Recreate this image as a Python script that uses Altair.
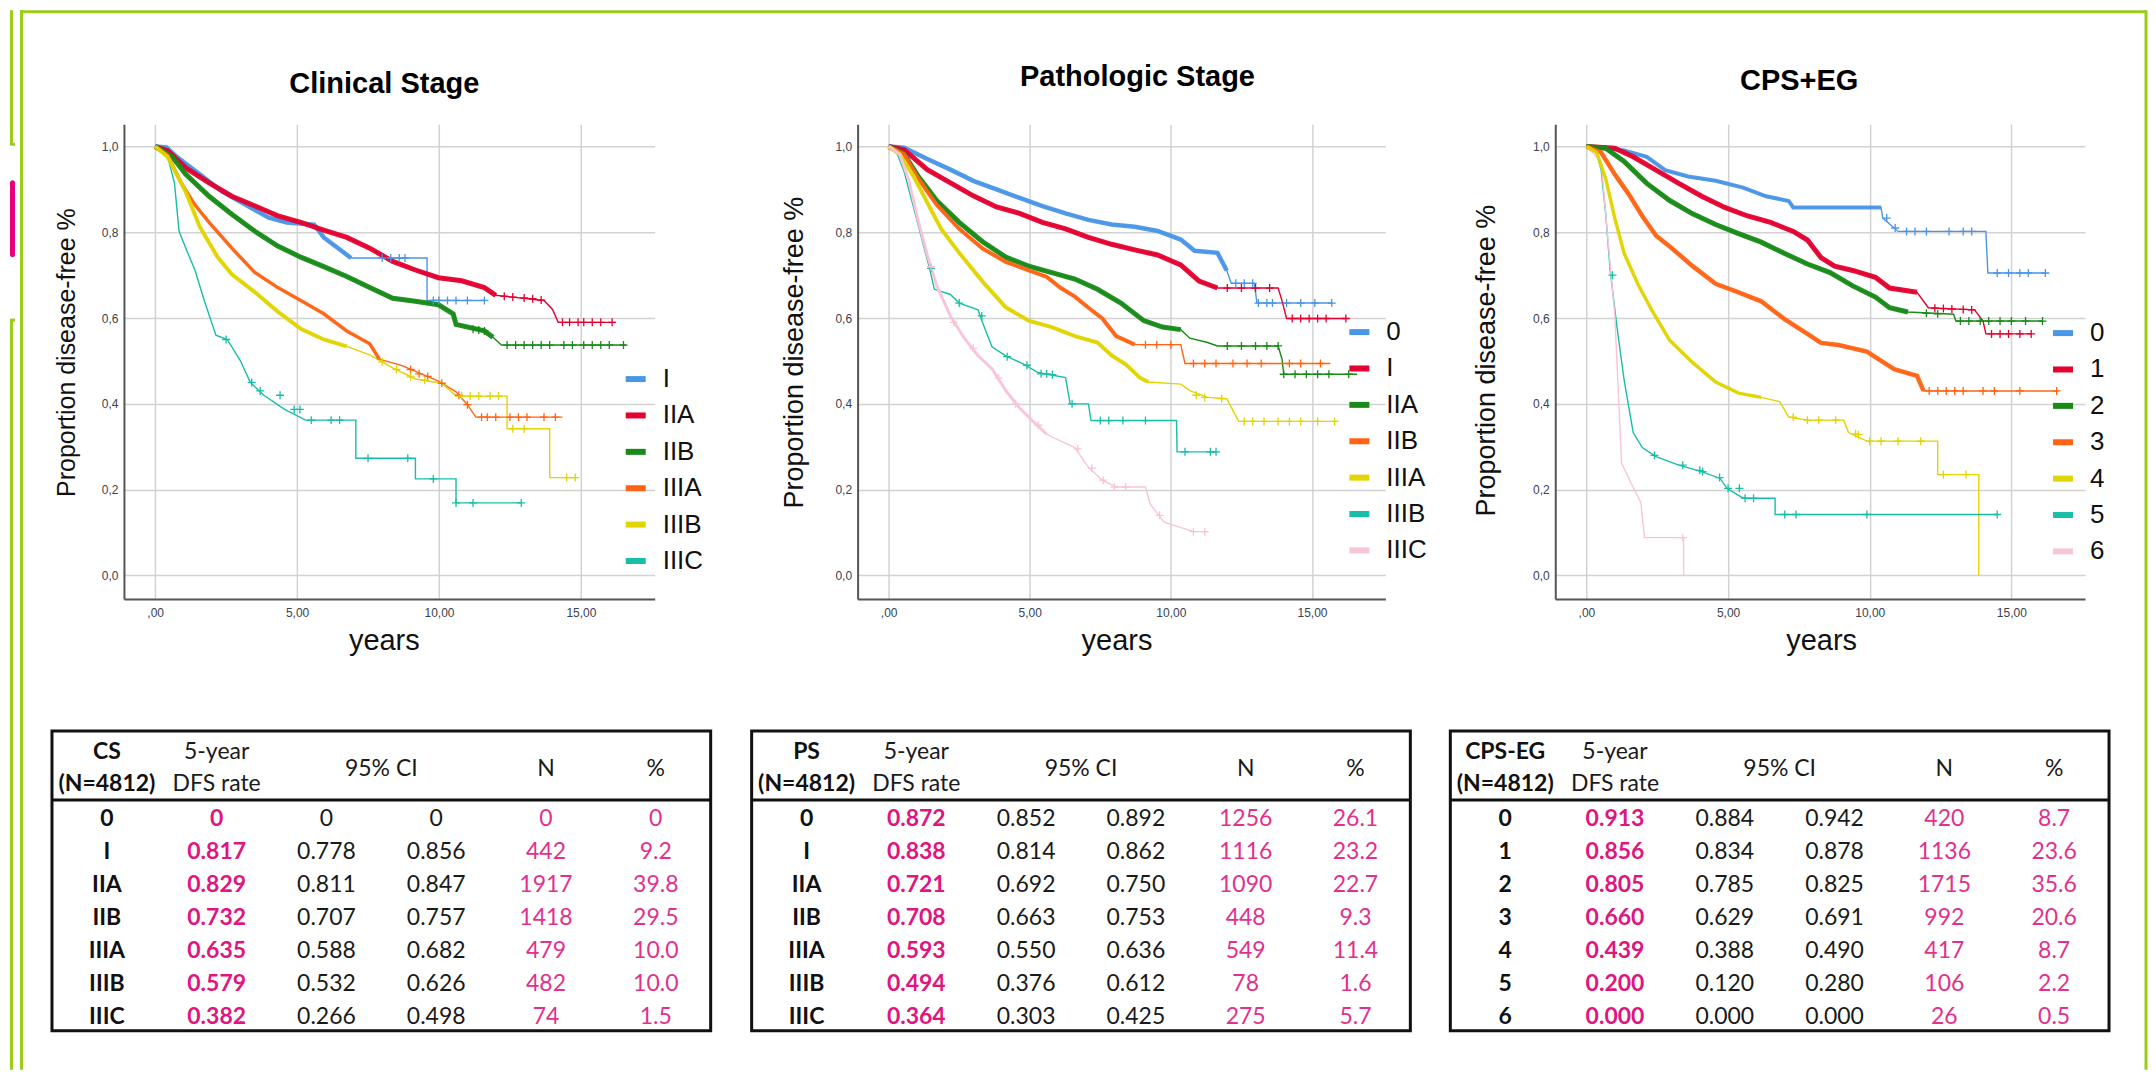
import altair as alt
import pandas as pd

# ---------------- colours ----------------
BLUE, RED, GREEN, ORANGE = "#4a96e6", "#e4002f", "#178a17", "#ff6414"
YELLOW, TEAL, PINK = "#e2d400", "#17bea8", "#f8c4da"
LIME, MAGENTA = "#9acd1a", "#e5007d"
PINK_BOLD, PINK_REG = "#e0157f", "#e2308c"

# ---------------- Clinical stage curves ----------------
cs_labels = ["I", "IIA", "IIB", "IIIA", "IIIB", "IIIC"]
CS_I_T = [0, 0.4, 0.76, 1.57, 2.38, 3.19, 4.0, 4.64, 5.6, 5.94, 6.6, 6.9, 9.58, 9.58, 11.6]
CS_I_S = [1.0, 0.998, 0.976, 0.935, 0.894, 0.864, 0.834, 0.823, 0.818, 0.788, 0.755, 0.74, 0.74, 0.641, 0.641]
CS_IIA_T = [0, 0.44, 1.08, 1.9, 2.7, 3.5, 4.3, 5.13, 5.94, 6.75, 7.56, 8.37, 9.17, 9.98, 10.8, 11.6, 12.0, 13.7, 14.0, 14.2, 16.2]
CS_IIA_S = [1.0, 0.99, 0.95, 0.915, 0.884, 0.862, 0.839, 0.823, 0.805, 0.788, 0.763, 0.732, 0.712, 0.694, 0.687, 0.671, 0.653, 0.641, 0.62, 0.59, 0.59]
CS_IIB_T = [0, 0.6, 1.08, 1.9, 2.7, 3.5, 4.32, 5.13, 5.94, 6.75, 7.56, 8.37, 9.17, 9.98, 10.5, 10.6, 11.6, 11.9, 12.2, 16.6]
CS_IIB_S = [1.0, 0.976, 0.935, 0.884, 0.842, 0.803, 0.768, 0.742, 0.72, 0.697, 0.671, 0.646, 0.639, 0.631, 0.61, 0.585, 0.57, 0.555, 0.537, 0.537]
CS_IIIA_T = [0, 0.44, 0.92, 1.4, 1.9, 2.7, 3.5, 4.32, 5.13, 5.94, 6.75, 7.56, 7.9, 8.7, 9.98, 10.6, 11.0, 11.3, 14.35]
CS_IIIA_S = [1.0, 0.98, 0.915, 0.864, 0.823, 0.763, 0.707, 0.671, 0.641, 0.61, 0.57, 0.54, 0.504, 0.489, 0.453, 0.428, 0.398, 0.369, 0.369]
CS_IIIB_T = [0, 0.44, 0.76, 1.08, 1.57, 2.2, 2.7, 3.5, 4.32, 5.13, 5.94, 6.75, 7.56, 8.37, 9.17, 10.1, 10.6, 12.4, 12.4, 13.9, 13.9, 14.8]
CS_IIIB_S = [1.0, 0.976, 0.935, 0.894, 0.813, 0.742, 0.702, 0.661, 0.615, 0.575, 0.55, 0.534, 0.514, 0.484, 0.458, 0.448, 0.418, 0.418, 0.342, 0.342, 0.228, 0.228]
CS_IIIC_T = [0, 0.44, 0.68, 0.84, 1.08, 1.4, 1.73, 2.14, 2.54, 3.0, 3.35, 3.83, 4.56, 5.3, 7.07, 7.07, 9.17, 9.17, 10.6, 10.6, 12.9]
CS_IIIC_S = [1.0, 0.976, 0.915, 0.803, 0.763, 0.712, 0.641, 0.56, 0.55, 0.501, 0.45, 0.42, 0.387, 0.362, 0.362, 0.273, 0.273, 0.225, 0.225, 0.169, 0.169]
# censor marks
CS_I_CT = [8.0, 8.3, 8.6, 8.8, 9.8, 10.0, 10.3, 10.6, 11.0, 11.6]
CS_I_CS = [0.74, 0.74, 0.74, 0.74, 0.641, 0.641, 0.641, 0.641, 0.641, 0.641]
CS_IIA_CT = [12.3, 12.6, 13.0, 13.3, 13.6, 14.35, 14.6, 14.9, 15.1, 15.4, 15.7, 16.1]
CS_IIA_CS = [0.651, 0.649, 0.647, 0.645, 0.642, 0.59, 0.59, 0.59, 0.59, 0.59, 0.59, 0.59]
CS_IIB_CT = [11.2, 11.4, 11.6, 12.4, 12.7, 13.0, 13.3, 13.6, 13.9, 14.4, 14.7, 15.1, 15.4, 15.7, 16.0, 16.5]
CS_IIB_CS = [0.574, 0.572, 0.57, 0.537, 0.537, 0.537, 0.537, 0.537, 0.537, 0.537, 0.537, 0.537, 0.537, 0.537, 0.537, 0.537]
CS_IIIA_CT = [9.0, 9.3, 9.6, 10.1, 10.7, 11.0, 11.5, 11.7, 12.0, 12.5, 12.8, 13.1, 13.7, 14.1]
CS_IIIA_CS = [0.48, 0.47, 0.464, 0.448, 0.42, 0.398, 0.369, 0.369, 0.369, 0.369, 0.369, 0.369, 0.369, 0.369]
CS_IIIB_CT = [8.0, 8.5, 9.0, 9.5, 10.8, 11.1, 11.4, 11.8, 12.1, 12.6, 13.0, 14.5, 14.8]
CS_IIIB_CS = [0.498, 0.48, 0.463, 0.455, 0.418, 0.418, 0.418, 0.418, 0.418, 0.342, 0.342, 0.228, 0.228]
CS_IIIC_CT = [2.5, 3.4, 3.7, 4.4, 4.9, 5.1, 5.5, 6.2, 6.5, 7.5, 8.9, 9.8, 10.6, 11.2, 12.9]
CS_IIIC_CS = [0.55, 0.45, 0.43, 0.42, 0.387, 0.387, 0.362, 0.362, 0.362, 0.273, 0.273, 0.225, 0.169, 0.169, 0.169]

# ---------------- Pathologic stage curves ----------------
ps_labels = ["0", "I", "IIA", "IIB", "IIIA", "IIIB", "IIIC"]
PS_0_T = [0, 0.55, 1.37, 2.19, 3.0, 3.82, 4.64, 5.45, 6.27, 7.08, 7.9, 8.72, 9.53, 10.35, 10.84, 11.65, 11.98, 12.14, 12.96, 13.05, 15.73]
PS_0_S = [1.0, 0.997, 0.971, 0.946, 0.92, 0.9, 0.88, 0.861, 0.844, 0.829, 0.818, 0.813, 0.803, 0.783, 0.757, 0.752, 0.711, 0.681, 0.681, 0.635, 0.635]
PS_I_T = [0, 0.55, 1.37, 2.19, 3.0, 3.82, 4.64, 5.45, 6.27, 7.08, 7.9, 8.72, 9.53, 10.35, 11.0, 11.65, 13.8, 13.94, 14.1, 16.2]
PS_I_S = [1.0, 0.992, 0.946, 0.915, 0.885, 0.859, 0.844, 0.823, 0.808, 0.788, 0.772, 0.759, 0.747, 0.724, 0.686, 0.67, 0.67, 0.64, 0.599, 0.599]
PS_IIA_T = [0, 0.55, 1.04, 1.7, 2.5, 3.33, 4.15, 4.96, 5.78, 6.6, 7.4, 8.23, 9.04, 9.7, 10.35, 10.67, 11.3, 11.65, 13.8, 13.94, 14.0, 16.6]
PS_IIA_S = [1.0, 0.982, 0.931, 0.874, 0.823, 0.778, 0.742, 0.721, 0.706, 0.691, 0.667, 0.635, 0.594, 0.579, 0.573, 0.553, 0.543, 0.535, 0.535, 0.504, 0.469, 0.469]
PS_IIB_T = [0, 0.55, 1.04, 1.7, 2.5, 3.33, 4.15, 4.96, 5.6, 6.1, 6.6, 7.08, 7.57, 8.06, 8.72, 10.35, 10.5, 15.65]
PS_IIB_S = [1.0, 0.982, 0.926, 0.864, 0.808, 0.762, 0.731, 0.711, 0.696, 0.67, 0.65, 0.624, 0.599, 0.558, 0.538, 0.538, 0.494, 0.494]
PS_IIIA_T = [0, 0.39, 0.88, 1.37, 1.86, 2.5, 3.33, 4.15, 4.96, 5.78, 6.6, 7.4, 7.9, 8.4, 8.9, 9.2, 10.35, 10.67, 11.3, 11.98, 12.4, 15.9]
PS_IIIA_S = [1.0, 0.982, 0.931, 0.869, 0.808, 0.752, 0.685, 0.625, 0.594, 0.579, 0.558, 0.543, 0.513, 0.492, 0.461, 0.451, 0.446, 0.431, 0.415, 0.412, 0.359, 0.359]
PS_IIIB_T = [0, 0.31, 0.55, 0.88, 1.2, 1.45, 1.62, 2.19, 2.5, 3.17, 3.33, 3.66, 4.15, 4.8, 5.29, 6.27, 6.43, 7.08, 7.17, 10.2, 10.22, 11.65]
PS_IIIB_S = [1.0, 0.982, 0.941, 0.859, 0.778, 0.716, 0.667, 0.655, 0.635, 0.619, 0.589, 0.533, 0.512, 0.492, 0.473, 0.461, 0.40, 0.40, 0.361, 0.361, 0.288, 0.288]
PS_IIIC_T = [0, 0.39, 0.72, 1.04, 1.37, 1.7, 2.19, 2.68, 3.17, 3.66, 4.15, 4.64, 5.12, 5.6, 6.1, 6.6, 7.08, 7.57, 8.06, 9.1, 9.27, 9.76, 10.8, 11.3]
PS_IIIC_S = [1.0, 0.982, 0.92, 0.829, 0.747, 0.676, 0.604, 0.553, 0.512, 0.482, 0.431, 0.39, 0.359, 0.329, 0.313, 0.298, 0.252, 0.222, 0.206, 0.206, 0.166, 0.124, 0.102, 0.102]
PS_0_CT = [12.3, 12.6, 12.9, 13.1, 13.4, 13.6, 14.1, 14.6, 15.1, 15.7]
PS_0_CS = [0.681, 0.681, 0.681, 0.635, 0.635, 0.635, 0.635, 0.635, 0.635, 0.635]
PS_I_CT = [12.0, 12.5, 13.0, 13.5, 14.3, 14.6, 14.9, 15.2, 15.5, 16.2]
PS_I_CS = [0.67, 0.67, 0.67, 0.67, 0.599, 0.599, 0.599, 0.599, 0.599, 0.599]
PS_IIA_CT = [12.0, 12.5, 13.0, 13.4, 13.8, 14.0, 14.4, 14.8, 15.2, 15.6, 16.3]
PS_IIA_CS = [0.535, 0.535, 0.535, 0.535, 0.535, 0.469, 0.469, 0.469, 0.469, 0.469, 0.469]
PS_IIB_CT = [9.1, 9.5, 10.0, 10.8, 11.2, 11.6, 12.2, 12.7, 13.2, 14.2, 14.6, 15.3]
PS_IIB_CS = [0.538, 0.538, 0.538, 0.494, 0.494, 0.494, 0.494, 0.494, 0.494, 0.494, 0.494, 0.494]
PS_IIIA_CT = [10.9, 11.2, 11.8, 12.6, 12.9, 13.3, 13.8, 14.2, 14.6, 15.2, 15.8]
PS_IIIA_CS = [0.42, 0.415, 0.412, 0.359, 0.359, 0.359, 0.359, 0.359, 0.359, 0.359, 0.359]
PS_IIIB_CT = [1.5, 2.5, 3.3, 4.2, 4.9, 5.4, 5.6, 5.8, 6.5, 7.5, 7.8, 8.3, 9.1, 10.5, 11.4, 11.6]
PS_IIIB_CS = [0.716, 0.635, 0.605, 0.51, 0.49, 0.47, 0.47, 0.468, 0.40, 0.361, 0.361, 0.361, 0.361, 0.288, 0.288, 0.288]
PS_IIIC_CT = [1.5, 2.3, 3.0, 3.9, 4.5, 5.3, 6.7, 7.2, 7.6, 8.0, 8.4, 9.6, 10.8, 11.2]
PS_IIIC_CS = [0.72, 0.59, 0.53, 0.46, 0.40, 0.35, 0.295, 0.25, 0.222, 0.206, 0.206, 0.14, 0.102, 0.102]

# ---------------- CPS+EG curves ----------------
cps_labels = ["0", "1", "2", "3", "4", "5", "6"]
CPS_0_T = [0, 1.33, 2.13, 2.78, 3.59, 4.56, 5.53, 6.34, 7.14, 7.3, 10.4, 10.46, 11.0, 14.1, 14.17, 16.2]
CPS_0_S = [1.0, 0.991, 0.976, 0.945, 0.93, 0.92, 0.904, 0.884, 0.873, 0.858, 0.858, 0.833, 0.802, 0.802, 0.705, 0.705]
CPS_1_T = [0, 1.0, 1.65, 2.46, 3.26, 4.07, 4.88, 5.69, 6.5, 7.3, 7.8, 8.28, 8.76, 9.4, 10.2, 10.7, 11.67, 12.07, 13.7, 14.0, 14.1, 15.7]
CPS_1_S = [1.0, 0.996, 0.976, 0.945, 0.914, 0.884, 0.858, 0.838, 0.823, 0.802, 0.782, 0.741, 0.721, 0.711, 0.695, 0.67, 0.66, 0.624, 0.619, 0.593, 0.563, 0.563]
CPS_2_T = [0, 0.68, 1.33, 2.13, 2.94, 3.75, 4.56, 5.37, 6.17, 6.98, 7.8, 8.6, 9.4, 10.2, 10.7, 11.35, 12.96, 13.04, 16.1]
CPS_2_S = [1.0, 0.996, 0.965, 0.914, 0.874, 0.843, 0.818, 0.797, 0.777, 0.751, 0.726, 0.706, 0.675, 0.649, 0.624, 0.614, 0.609, 0.593, 0.593]
CPS_3_T = [0, 0.52, 1.0, 1.49, 1.97, 2.46, 2.94, 3.75, 4.56, 5.37, 6.17, 6.98, 7.8, 8.28, 8.9, 9.9, 10.5, 10.86, 11.67, 11.9, 16.6]
CPS_3_S = [1.0, 0.986, 0.935, 0.889, 0.838, 0.792, 0.767, 0.721, 0.68, 0.66, 0.639, 0.598, 0.563, 0.542, 0.537, 0.522, 0.496, 0.481, 0.465, 0.43, 0.43]
CPS_4_T = [0, 0.36, 0.68, 1.0, 1.33, 1.81, 2.3, 2.94, 3.75, 4.56, 5.37, 6.17, 6.82, 7.14, 7.8, 9.08, 9.25, 9.9, 12.4, 12.4, 13.85, 13.85]
CPS_4_S = [1.0, 0.986, 0.925, 0.833, 0.751, 0.68, 0.619, 0.548, 0.496, 0.451, 0.425, 0.415, 0.405, 0.369, 0.362, 0.362, 0.333, 0.313, 0.313, 0.235, 0.235, 0.0]
CPS_5_T = [0, 0.36, 0.52, 0.68, 0.84, 1.08, 1.33, 1.65, 1.97, 2.46, 3.26, 4.07, 4.72, 4.96, 5.53, 6.66, 6.66, 14.5]
CPS_5_S = [1.0, 0.986, 0.945, 0.843, 0.71, 0.578, 0.456, 0.333, 0.298, 0.277, 0.257, 0.242, 0.226, 0.203, 0.18, 0.18, 0.142, 0.142]
CPS_6_T = [0, 0.52, 0.76, 1.0, 1.24, 1.57, 1.92, 2.05, 3.43, 3.43]
CPS_6_S = [1.0, 0.965, 0.782, 0.609, 0.262, 0.216, 0.17, 0.088, 0.088, 0.0]
CPS_0_CT = [10.6, 10.9, 11.3, 11.6, 12.0, 12.8, 13.3, 13.6, 14.5, 14.9, 15.3, 15.6, 16.2]
CPS_0_CS = [0.833, 0.81, 0.802, 0.802, 0.802, 0.802, 0.802, 0.802, 0.705, 0.705, 0.705, 0.705, 0.705]
CPS_1_CT = [12.3, 12.6, 12.9, 13.3, 13.6, 14.3, 14.6, 14.9, 15.3, 15.7]
CPS_1_CS = [0.623, 0.622, 0.621, 0.62, 0.619, 0.563, 0.563, 0.563, 0.563, 0.563]
CPS_2_CT = [12.0, 12.4, 13.2, 13.5, 13.9, 14.2, 14.6, 15.0, 15.5, 16.1]
CPS_2_CS = [0.611, 0.61, 0.593, 0.593, 0.593, 0.593, 0.593, 0.593, 0.593, 0.593]
CPS_3_CT = [12.1, 12.4, 12.7, 13.0, 13.3, 14.0, 14.4, 15.3, 16.6]
CPS_3_CS = [0.43, 0.43, 0.43, 0.43, 0.43, 0.43, 0.43, 0.43, 0.43]
CPS_4_CT = [7.3, 7.8, 8.2, 8.8, 9.5, 9.6, 10.0, 10.4, 11.0, 11.8, 12.6, 13.4]
CPS_4_CS = [0.369, 0.362, 0.362, 0.362, 0.33, 0.328, 0.313, 0.313, 0.313, 0.313, 0.235, 0.235]
CPS_5_CT = [0.92, 2.4, 3.4, 4.0, 4.1, 4.7, 5.0, 5.4, 5.6, 5.9, 7.0, 7.4, 9.9, 14.5]
CPS_5_CS = [0.70, 0.28, 0.257, 0.245, 0.242, 0.228, 0.203, 0.203, 0.18, 0.18, 0.142, 0.142, 0.142, 0.142]
CPS_6_CT = [3.4]
CPS_6_CS = [0.088]

# ---------------- table values ----------------
cs_stage = ["0", "I", "IIA", "IIB", "IIIA", "IIIB", "IIIC"]
cs_rate = ["0", "0.817", "0.829", "0.732", "0.635", "0.579", "0.382"]
cs_lo = ["0", "0.778", "0.811", "0.707", "0.588", "0.532", "0.266"]
cs_hi = ["0", "0.856", "0.847", "0.757", "0.682", "0.626", "0.498"]
cs_n = ["0", "442", "1917", "1418", "479", "482", "74"]
cs_pct = ["0", "9.2", "39.8", "29.5", "10.0", "10.0", "1.5"]

ps_stage = ["0", "I", "IIA", "IIB", "IIIA", "IIIB", "IIIC"]
ps_rate = ["0.872", "0.838", "0.721", "0.708", "0.593", "0.494", "0.364"]
ps_lo = ["0.852", "0.814", "0.692", "0.663", "0.550", "0.376", "0.303"]
ps_hi = ["0.892", "0.862", "0.750", "0.753", "0.636", "0.612", "0.425"]
ps_n = ["1256", "1116", "1090", "448", "549", "78", "275"]
ps_pct = ["26.1", "23.2", "22.7", "9.3", "11.4", "1.6", "5.7"]

cps_stage = ["0", "1", "2", "3", "4", "5", "6"]
cps_rate = ["0.913", "0.856", "0.805", "0.660", "0.439", "0.200", "0.000"]
cps_lo = ["0.884", "0.834", "0.785", "0.629", "0.388", "0.120", "0.000"]
cps_hi = ["0.942", "0.878", "0.825", "0.691", "0.490", "0.280", "0.000"]
cps_n = ["420", "1136", "1715", "992", "417", "106", "26"]
cps_pct = ["8.7", "23.6", "35.6", "20.6", "8.7", "2.2", "0.5"]

# ---------------- layout constants ----------------
SANS = "Liberation Sans"
TFONT = "Lato"
PH = 475              # plot height
PLOT_TOP = 122        # page y of plot tops
TABLE_TOP = 729       # page y of table tops
TW, TH = 659, 300     # table box size
COLW = TW / 6.0
ROWH = 33.0
ROW0 = 88.0           # centre of first body row below table top
R_TOP, R_BOT = -ROW0 / ROWH, (TH - ROW0) / ROWH
R_H1, R_H2, R_HM, R_SEP = (21 - ROW0) / ROWH, (53 - ROW0) / ROWH, (38 - ROW0) / ROWH, (69 - ROW0) / ROWH


def curve_df(labels, times, survs, dense_end, dense_w):
    rows = []
    for lab, T, S, de, w in zip(labels, times, survs, dense_end, dense_w):
        for i, (t, s) in enumerate(zip(T, S)):
            rows.append(dict(stage=lab, t=t, s=s, i=i, dense=bool(t <= de), w=w))
    return pd.DataFrame(rows)


def censor_df(labels, times, survs):
    rows = []
    for lab, T, S in zip(labels, times, survs):
        for t, s in zip(T, S):
            rows.append(dict(stage=lab, t=t, s=s))
    return pd.DataFrame(rows)


def table_layer(head, stage, rate, lo, hi, nn, pct, width, table_left_rel):
    body = []
    for r in range(len(stage)):
        body += [dict(c=0, r=r, txt=stage[r], k="lab"), dict(c=1, r=r, txt=rate[r], k="rate"),
                 dict(c=2, r=r, txt=lo[r], k="ci"), dict(c=3, r=r, txt=hi[r], k="ci"),
                 dict(c=4, r=r, txt=nn[r], k="n"), dict(c=5, r=r, txt=pct[r], k="n")]
    bdf = pd.DataFrame(body)
    hdf = pd.DataFrame([
        dict(c=0, r=R_H1, txt=head, b=1), dict(c=0, r=R_H2, txt="(N=4812)", b=1),
        dict(c=1, r=R_H1, txt="5-year", b=0), dict(c=1, r=R_H2, txt="DFS rate", b=0),
        dict(c=2.5, r=R_HM, txt="95% CI", b=0), dict(c=4, r=R_HM, txt="N", b=0),
        dict(c=5, r=R_HM, txt="%", b=0)])
    c0 = (0 - table_left_rel - COLW / 2) / COLW
    c1 = (width - table_left_rel - COLW / 2) / COLW
    off = TABLE_TOP - PLOT_TOP + ROW0
    r0 = (0 - off) / ROWH
    r1 = (PH - off) / ROWH
    X = alt.X("c:Q", scale=alt.Scale(domain=[c0, c1], nice=False, zero=False), axis=None)
    Y = alt.Y("r:Q", scale=alt.Scale(domain=[r0, r1], reverse=True, nice=False, zero=False), axis=None)

    def txt(df, filt, color, weight):
        return alt.Chart(df).transform_filter(filt).mark_text(
            font=TFONT, fontSize=23, fontWeight=weight, color=color, baseline="middle",
            align="center").encode(x=X, y=Y, text="txt:N")
    box = alt.Chart(pd.DataFrame({"c": [-0.5], "c2": [5.5], "r": [R_TOP], "r2": [R_BOT]})).mark_rect(
        fillOpacity=0, stroke="#111111", strokeWidth=3).encode(x=X, x2="c2:Q", y=Y, y2="r2:Q")
    sep = alt.Chart(pd.DataFrame({"c": [-0.5], "c2": [5.5], "r": [R_SEP]})).mark_rule(
        color="#111111", strokeWidth=3).encode(x=X, x2="c2:Q", y=Y)
    return alt.layer(
        box, sep,
        txt(bdf, "datum.k == 'lab'", "#111111", "bold"),
        txt(bdf, "datum.k == 'rate'", PINK_BOLD, "bold"),
        txt(bdf, "datum.k == 'ci'", "#1a1a1a", "normal"),
        txt(bdf, "datum.k == 'n'", PINK_REG, "normal"),
        txt(hdf, "datum.b == 1", "#111111", "bold"),
        txt(hdf, "datum.b == 0", "#1a1a1a", "normal"),
    )


def km_panel(title, labels, colors, cdf, kdf, width, leg_x, leg_y, t_off, t_dx,
             yt_size, yt_x, yt_y, years_x, table):
    color = alt.Color(
        "stage:N",
        scale=alt.Scale(domain=labels, range=colors),
        legend=alt.Legend(orient="none", legendX=leg_x, legendY=leg_y, title=None,
                          symbolType="stroke", symbolStrokeWidth=6, symbolSize=400,
                          labelFontSize=26, labelFont=SANS, labelColor="#111111",
                          labelOffset=14, rowPadding=10.4, symbolOpacity=1),
    )
    x = alt.X("t:Q", scale=alt.Scale(domain=[-1.1, 17.6], nice=False, zero=False),
              axis=alt.Axis(values=[0, 5, 10, 15],
                            labelExpr="datum.value == 0 ? ',00' : replace(format(datum.value, '.2f'), '.', ',')",
                            grid=True, ticks=False, tickSize=0, domainColor="#555555", domainWidth=2,
                            gridColor="#d2d2d2", gridWidth=1.5, labelFont=SANS, labelFontSize=12,
                            labelColor="#3a4252", labelPadding=9, title="years", titleFont=SANS,
                            titleFontSize=29, titleFontWeight="normal", titleColor="#111111",
                            titleX=years_x, titleY=51, titleBaseline="alphabetic", titleAlign="center"))
    y = alt.Y("s:Q", scale=alt.Scale(domain=[-0.055, 1.052], nice=False, zero=False),
              axis=alt.Axis(values=[0, 0.2, 0.4, 0.6, 0.8, 1.0],
                            labelExpr="replace(format(datum.value, '.1f'), '.', ',')",
                            grid=True, ticks=False, tickSize=0, domainColor="#555555", domainWidth=2,
                            gridColor="#d2d2d2", gridWidth=1.5, labelFont=SANS, labelFontSize=12,
                            labelColor="#3a4252", labelPadding=6,
                            title="Proportion disease-free %", titleFont=SANS, titleFontSize=yt_size,
                            titleFontWeight="normal", titleColor="#111111", titleAngle=270,
                            titleX=yt_x, titleY=yt_y, titleBaseline="middle", titleAlign="center"))
    base = alt.Chart(cdf)
    thin = base.mark_line(strokeWidth=1.4, interpolate="linear").encode(
        x=x, y=y, color=color, order="i:Q")
    thick = base.transform_filter("datum.dense").mark_line(interpolate="linear", opacity=0.95).encode(
        x=x, y=y, color=color, order="i:Q", strokeWidth=alt.StrokeWidth("w:Q", scale=None))
    cens = alt.Chart(kdf).mark_point(shape="M-1,0H1M0,-1V1", filled=False, size=64,
                                     strokeWidth=1.3, opacity=1).encode(x=x, y=y, color=color)
    km = alt.layer(thin, thick, cens)
    return alt.layer(km, table).resolve_scale(x="independent", y="independent").properties(
        width=width, height=PH,
        title=alt.TitleParams(title, font=SANS, fontSize=29, fontWeight="bold", color="#000000",
                              anchor="middle", frame="group", offset=t_off, dx=t_dx,
                              baseline="alphabetic"))


def spacer(w, h):
    return alt.Chart(pd.DataFrame({"z": [0]})).mark_point(opacity=0).encode(
        x=alt.value(0), y=alt.value(0)).properties(width=w, height=h)


# page decoration (slide frame) in page pixels; first cell origin is (OX, PLOT_TOP).
# Its top-left corner sits at (8, 8), which is where the page margin places it.
OX = 50
frame_x = [9.5, 9.5, 19.5, 18, 2145, 8, 8]
frame_x2 = [9.5, 9.5, 19.5, 2145, 2145, 13, 13]
frame_y = [8, 318, 8, 9.5, 8, 142, 318]
frame_y2 = [142, 1068, 1068, 9.5, 1068, 142, 318]


def decoration():
    fdf = pd.DataFrame({"x": [v - OX for v in frame_x], "x2": [v - OX for v in frame_x2],
                        "y": [v - PLOT_TOP for v in frame_y], "y2": [v - PLOT_TOP for v in frame_y2]})
    lines = alt.Chart(fdf).mark_rule(color=LIME, strokeWidth=3, strokeCap="butt").encode(
        x=alt.X("x:Q", scale=None, axis=None), x2="x2:Q",
        y=alt.Y("y:Q", scale=None, axis=None), y2="y2:Q")
    tab = alt.Chart(pd.DataFrame({"z": [0]})).mark_rect(color=MAGENTA, cornerRadius=3).encode(
        x=alt.value(8 - OX), x2=alt.value(13 - OX), y=alt.value(178 - PLOT_TOP), y2=alt.value(255 - PLOT_TOP))
    return alt.layer(lines, tab).properties(width=122 - OX, height=PH)


cs_df = curve_df(cs_labels,
                 [CS_I_T, CS_IIA_T, CS_IIB_T, CS_IIIA_T, CS_IIIB_T, CS_IIIC_T],
                 [CS_I_S, CS_IIA_S, CS_IIB_S, CS_IIIA_S, CS_IIIB_S, CS_IIIC_S],
                 [8.8, 12.0, 11.9, 8.5, 7.5, -1], [4.5, 5, 5, 3.5, 4, 1])
cs_cens = censor_df(cs_labels,
                    [CS_I_CT, CS_IIA_CT, CS_IIB_CT, CS_IIIA_CT, CS_IIIB_CT, CS_IIIC_CT],
                    [CS_I_CS, CS_IIA_CS, CS_IIB_CS, CS_IIIA_CS, CS_IIIB_CS, CS_IIIC_CS])
ps_df = curve_df(ps_labels,
                 [PS_0_T, PS_I_T, PS_IIA_T, PS_IIB_T, PS_IIIA_T, PS_IIIB_T, PS_IIIC_T],
                 [PS_0_S, PS_I_S, PS_IIA_S, PS_IIB_S, PS_IIIA_S, PS_IIIB_S, PS_IIIC_S],
                 [12.0, 11.7, 10.5, 9.0, 9.5, -1, 6.0], [4.5, 5, 5, 4, 4, 1, 3])
ps_cens = censor_df(ps_labels,
                    [PS_0_CT, PS_I_CT, PS_IIA_CT, PS_IIB_CT, PS_IIIA_CT, PS_IIIB_CT, PS_IIIC_CT],
                    [PS_0_CS, PS_I_CS, PS_IIA_CS, PS_IIB_CS, PS_IIIA_CS, PS_IIIB_CS, PS_IIIC_CS])
cps_df = curve_df(cps_labels,
                  [CPS_0_T, CPS_1_T, CPS_2_T, CPS_3_T, CPS_4_T, CPS_5_T, CPS_6_T],
                  [CPS_0_S, CPS_1_S, CPS_2_S, CPS_3_S, CPS_4_S, CPS_5_S, CPS_6_S],
                  [10.4, 12.0, 12.0, 11.9, 6.5, -1, -1], [4, 5, 5, 4.5, 3.5, 1, 1])
cps_cens = censor_df(cps_labels,
                     [CPS_0_CT, CPS_1_CT, CPS_2_CT, CPS_3_CT, CPS_4_CT, CPS_5_CT, CPS_6_CT],
                     [CPS_0_CS, CPS_1_CS, CPS_2_CS, CPS_3_CS, CPS_4_CS, CPS_5_CS, CPS_6_CS])

# plot lefts (page px): 122, 856, 1554 ; table lefts: 50, 750, 1449
W1, W2, W3 = 531, 528, 530
t1 = table_layer("CS", cs_stage, cs_rate, cs_lo, cs_hi, cs_n, cs_pct, W1, 50 - 122)
t2 = table_layer("PS", ps_stage, ps_rate, ps_lo, ps_hi, ps_n, ps_pct, W2, 750 - 856)
t3 = table_layer("CPS-EG", cps_stage, cps_rate, cps_lo, cps_hi, cps_n, cps_pct, W3, 1449 - 1554)

p1 = km_panel("Clinical Stage", cs_labels, [BLUE, RED, GREEN, ORANGE, YELLOW, TEAL],
              cs_df, cs_cens, W1, 499, 242, 2, -5, 25, -57, 228, 260, t1)
p2 = km_panel("Pathologic Stage", ps_labels, [BLUE, RED, GREEN, ORANGE, YELLOW, TEAL, PINK],
              ps_df, ps_cens, W2, 489, 195, 9, 16, 27, -63, 228, 259, t2)
p3 = km_panel("CPS+EG", cps_labels, [BLUE, RED, GREEN, ORANGE, YELLOW, TEAL, PINK],
              cps_df, cps_cens, W3, 495, 196, 5, -21, 27, -69, 236, 266, t3)

chart = alt.hconcat(
    decoration(), p1, spacer(856 - 122 - W1, PH), p2, spacer(1554 - 856 - W2, PH), p3,
    spacing=0, bounds="flush",
).resolve_scale(
    color="independent", x="independent", y="independent"
).resolve_legend(
    color="independent"
).configure_view(
    strokeWidth=0
).properties(
    padding=0, background="white"
)

chart.save("out.html", embed_options={"renderer": "svg", "actions": False})
